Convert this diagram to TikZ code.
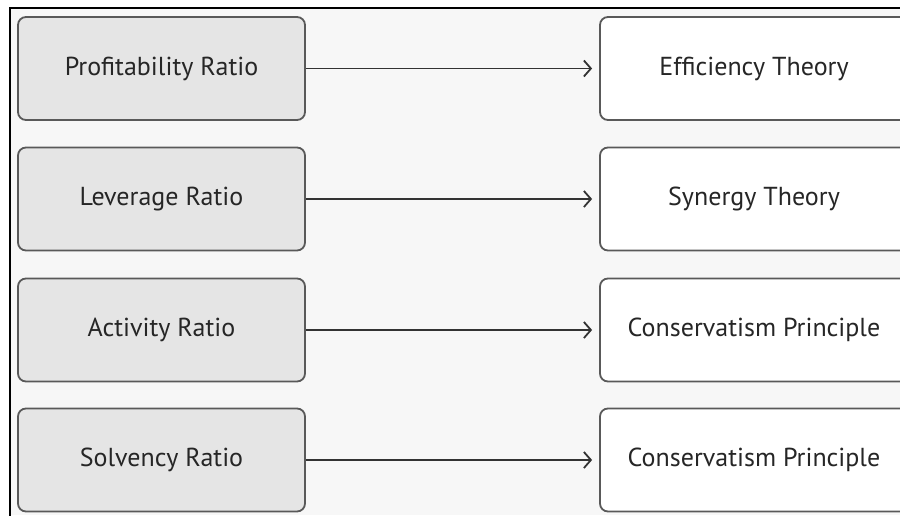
\documentclass[tikz,border=0pt]{standalone}
\usepackage{fontspec}
\setmainfont{PT Sans}
\usetikzlibrary{positioning,arrows.meta}

\begin{document}
\begin{tikzpicture}[x=0.5pt,y=-0.5pt,>={Straight Barb[length=3.5pt,width=8pt]},
  ratio/.style={draw=black!65,fill=black!10,rounded corners=4pt,line width=0.9pt,
    minimum width=143.5pt,minimum height=51.5pt,font=\fontsize{13}{15}\selectfont,text=black!85},
  theory/.style={ratio,fill=white,minimum width=154pt},
  link/.style={->,line width=0.9pt,black!80,shorten >=3.5pt}]

    \useasboundingbox (0,0) rectangle (900,515);
    \fill[black!3] (10,8) rectangle (900,515);
    \draw[line width=1.3pt] (10,520) -- (10,8) -- (905,8);

    \node[ratio] (profit) at (161.5,68.5) {Profitability Ratio};
    \node[ratio] (lever) at (161.5,199) {Leverage Ratio};
    \node[ratio] (activ) at (161.5,330) {Activity Ratio};
    \node[ratio] (solv) at (161.5,460) {Solvency Ratio};

    \node[theory] (effic) at (754,68.5) {Efficiency Theory};
    \node[theory] (syner) at (754,199) {Synergy Theory};
    \node[theory] (cons1) at (754,330) {Conservatism Principle};
    \node[theory] (cons2) at (754,460) {Conservatism Principle};

    % ratio -> theory
    \draw[link] (profit) -- (effic);
    \draw[link] (lever) -- (syner);
    \draw[link] (activ) -- (cons1);
    \draw[link] (solv) -- (cons2);
  \end{tikzpicture}
\end{document}
